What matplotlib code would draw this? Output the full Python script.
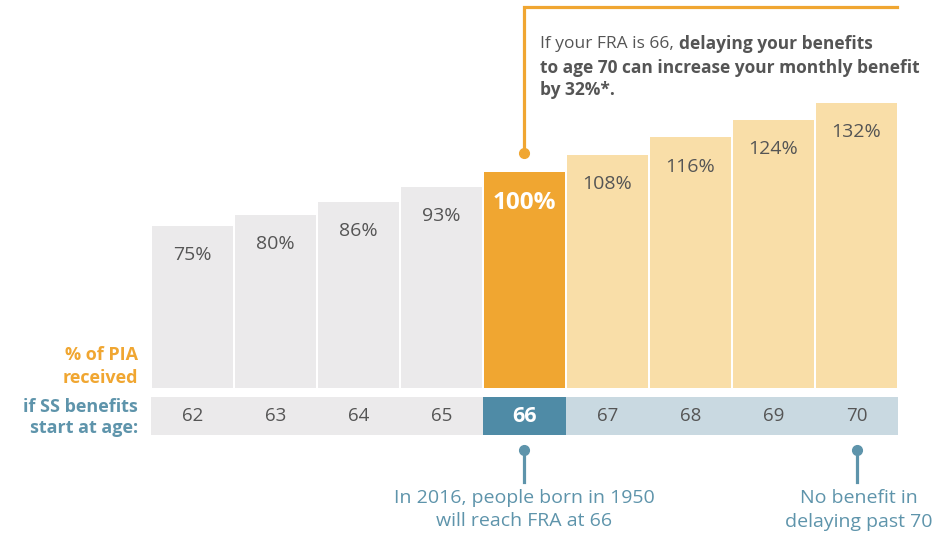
import matplotlib.pyplot as plt

ages = ["62", "63", "64", "65", "66", "67", "68", "69", "70"]
pia = [75, 80, 86, 93, 100, 108, 116, 124, 132]
pia_labels = ["75%", "80%", "86%", "93%", "100%", "108%", "116%", "124%", "132%"]
fra_index = 4
last_index = 8

grey = "#EBEAEB"
orange = "#F0A631"
light_orange = "#F9DEA8"
blue = "#4F8BA6"
light_blue = "#C9D9E1"
text_grey = "#555555"
label_blue = "#5E94AB"

plt.rcParams['font.family'] = ['Open Sans', 'DejaVu Sans']

fig = plt.figure(figsize=(9.43, 5.33), dpi=100)
ax = fig.add_axes([0, 0, 1, 1])
ax.set_xlim(-2.319, 9.042)
ax.set_ylim(-67.1, 179.6)
ax.axis("off")

x = list(range(len(ages)))
bar_cols = [grey if i < fra_index else orange if i == fra_index else light_orange for i in x]
age_cols = [grey if i < fra_index else blue if i == fra_index else light_blue for i in x]

ax.bar(x, pia, width=0.975, color=bar_cols)
# age row below the bars
ax.bar(x, [17.6] * len(x), bottom=-21.8, width=1.0, color=age_cols)

for i, (v, lab) in enumerate(zip(pia, pia_labels)):
    if i == fra_index:
        ax.text(i, v - 14.5, lab, ha="center", va="center", fontsize=17.5,
                fontweight="bold", color="white")
    else:
        ax.text(i, v - 13.5, lab, ha="center", va="center", fontsize=14, color=text_grey)

for i, a in enumerate(ages):
    if i == fra_index:
        ax.text(i, -13, a, ha="center", va="center", fontsize=15.5,
                fontweight="bold", color="white")
    else:
        ax.text(i, -13, a, ha="center", va="center", fontsize=13.5, color=text_grey)

# left side labels
ax.text(-0.66, 15.5, "% of PIA", ha="right", va="center", fontsize=13,
        fontweight="bold", color=orange)
ax.text(-0.66, 4.8, "received", ha="right", va="center", fontsize=13,
        fontweight="bold", color=orange)
ax.text(-0.66, -8.6, "if SS benefits", ha="right", va="center", fontsize=13,
        fontweight="bold", color=label_blue)
ax.text(-0.66, -18.5, "start at age:", ha="right", va="center", fontsize=13,
        fontweight="bold", color=label_blue)

# top callout
ax.plot([fra_index, fra_index, 8.49], [109, 176.5, 176.5], color=orange, lw=2.3,
        solid_joinstyle="miter")
ax.plot(fra_index, 109, "o", color=orange, ms=7)
t1 = ax.text(4.19, 159.3, "If your FRA is 66, ", ha="left", va="center", fontsize=12.5,
             color=text_grey)
fig.canvas.draw()
bb = t1.get_window_extent().transformed(ax.transData.inverted())
ax.text(bb.x1, 159.3, "delaying your benefits", ha="left", va="center", fontsize=12.5,
        fontweight="bold", color=text_grey)
ax.text(4.19, 148.3, "to age 70 can increase your monthly benefit", ha="left",
        va="center", fontsize=12.5, fontweight="bold", color=text_grey)
ax.text(4.19, 138, "by 32%*.", ha="left", va="center", fontsize=12.5,
        fontweight="bold", color=text_grey)

# bottom callouts
for xi in [fra_index, last_index]:
    ax.plot([xi, xi], [-28.7, -43.5], color=label_blue, lw=2.3)
    ax.plot(xi, -28.7, "o", color=label_blue, ms=7)
ax.text(fra_index, -51, "In 2016, people born in 1950", ha="center", va="center",
        fontsize=14, color=label_blue)
ax.text(fra_index, -61.5, "will reach FRA at 66", ha="center", va="center",
        fontsize=14, color=label_blue)
ax.text(last_index + 0.03, -51, "No benefit in", ha="center", va="center",
        fontsize=14, color=label_blue)
ax.text(last_index + 0.03, -62, "delaying past 70", ha="center", va="center",
        fontsize=14, color=label_blue)

fig.savefig("out.png", dpi=100)
